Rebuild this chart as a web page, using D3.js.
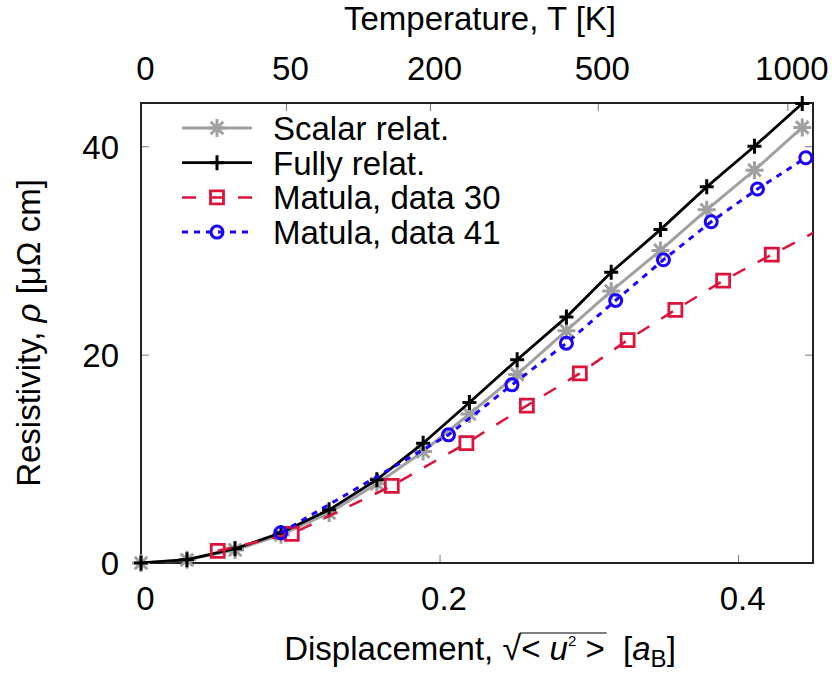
<!DOCTYPE html>
<html>
<head>
<meta charset="utf-8">
<script src="https://cdn.jsdelivr.net/npm/d3@7"></script>
<style>
  body { margin: 0; background: #fff; }
  text { font-family: "Liberation Sans", Arial, sans-serif; font-size: 33px; fill: #000; white-space: pre; }
</style>
</head>
<body>
<svg id="chart" width="832" height="675"></svg>
<script>
// displacement grid shared by the two calculated curves
const displacement = [0, 0.0308, 0.063, 0.0938, 0.126, 0.158, 0.189, 0.220, 0.252, 0.285, 0.315, 0.348, 0.379, 0.411, 0.443];
const scalarRho = [0, 0.3, 1.25, 2.7, 4.8, 7.6, 10.7, 14.3, 18.1, 22.3, 26.1, 30.0, 33.9, 37.7, 41.8];
const fullyRho = [0, 0.32, 1.37, 2.9, 5.1, 8.0, 11.5, 15.4, 19.5, 23.6, 27.9, 32.0, 36.1, 40.0, 44.1];

// experimental data (Matula)
const matula30X = [0.0514, 0.101, 0.168, 0.218, 0.2585, 0.294, 0.326, 0.358, 0.390, 0.4226, 0.4546];
const matula30Rho = [1.17, 2.8, 7.4, 11.5, 15.1, 18.2, 21.4, 24.3, 27.1, 29.6, 32.0];
const matula41X = [0.0936, 0.206, 0.2485, 0.285, 0.318, 0.350, 0.382, 0.413, 0.4454];
const matula41Rho = [2.9, 12.3, 17.1, 21.1, 25.2, 29.1, 32.75, 35.9, 38.9];

const xTicks = [0, 0.2, 0.4];
const yTicks = [0, 20, 40];
// top axis: temperature labels placed at their displacement
const tempLabels = ["0", "50", "200", "500", "1000"];
const tempPos = [0, 0.0971, 0.1936, 0.306, 0.433];

const margin = { top: 103, right: 19, bottom: 112, left: 141 };
const width = 832 - margin.left - margin.right;
const height = 675 - margin.top - margin.bottom;

const svg = d3.select("#chart");
const g = svg.append("g").attr("transform", `translate(${margin.left},${margin.top})`);

const x = d3.scaleLinear().domain([0, 0.4502]).range([0, width]);
const y = d3.scaleLinear().domain([0, 44.15]).range([height, 0]);

g.append("clipPath").attr("id", "plot-clip")
  .append("rect").attr("width", width).attr("height", height);

// axes (ticks pointing inward)
const tickColor = "#777";
const xAxis = g.append("g")
  .attr("transform", `translate(0,${height})`)
  .call(d3.axisBottom(x).tickValues(xTicks).tickSize(-8)
    .tickFormat(d => d === 0 ? "0" : d.toFixed(1)));
xAxis.selectAll("text").attr("y", 47).attr("dy", 0).attr("dx", 4);

const x2 = d3.scaleLinear().domain(x.domain()).range(x.range());
const topAxis = g.append("g")
  .call(d3.axisTop(x2).tickValues(tempPos).tickSize(-8)
    .tickFormat((d, i) => tempLabels[i]));
topAxis.selectAll("text").attr("y", -23).attr("dy", 0).attr("dx", 4);

const yAxis = g.append("g")
  .call(d3.axisLeft(y).tickValues(yTicks).tickSize(-8));
yAxis.selectAll("text").attr("x", -22).attr("dy", "0.36em");

const yAxisRight = g.append("g")
  .attr("transform", `translate(${width},0)`)
  .call(d3.axisRight(y).tickValues(yTicks).tickSize(-8).tickFormat(""));

[xAxis, topAxis, yAxis, yAxisRight].forEach(a => {
  a.select(".domain").remove();
  a.selectAll("line").attr("stroke", tickColor).attr("stroke-width", 1);
  a.selectAll("text").attr("fill", "#000");
  a.attr("font-size", null).attr("font-family", null);
});

// frame
g.append("rect")
  .attr("width", width).attr("height", height)
  .attr("fill", "none").attr("stroke", "#222").attr("stroke-width", 2);

// marker shapes
const markers = {
  star: "M-9,0H9M0,-9V9M-6.3,-6.3L6.3,6.3M-6.3,6.3L6.3,-6.3",
  plus: "M-7,0H7M0,-7.5V7.5",
  square: "M-6.5,-6.5H6.5V6.5H-6.5Z",
  circle: "M6,0A6,6 0 1,1 -6,0A6,6 0 1,1 6,0Z"
};

const series = [
  { name: "Scalar relat.", xs: displacement, ys: scalarRho, color: "#a0a0a0", width: 3, dash: null, marker: "star", mWidth: 3 },
  { name: "Fully relat.", xs: displacement, ys: fullyRho, color: "#000000", width: 2.8, dash: null, marker: "plus", mWidth: 3 },
  { name: "Matula, data 30", xs: matula30X, ys: matula30Rho, color: "#dc143c", width: 2.5, dash: "14,14", marker: "square", mWidth: 2.8 },
  { name: "Matula, data 41", xs: matula41X, ys: matula41Rho, color: "#1a00ff", width: 3, dash: "6,6", marker: "circle", mWidth: 3 }
];

const line = d3.line().x(d => x(d[0])).y(d => y(d[1]));

series.forEach(s => {
  const pts = s.xs.map((v, i) => [v, s.ys[i]]);
  g.append("path")
    .datum(pts)
    .attr("clip-path", "url(#plot-clip)")
    .attr("d", line)
    .attr("fill", "none")
    .attr("stroke", s.color)
    .attr("stroke-width", s.width)
    .attr("stroke-dasharray", s.dash);

  g.selectAll(null)
    .data(pts.filter(d => d[0] <= x.domain()[1]))
    .enter().append("path")
    .attr("transform", d => `translate(${x(d[0])},${y(d[1])})`)
    .attr("d", markers[s.marker])
    .attr("fill", "none")
    .attr("stroke", s.color)
    .attr("stroke-width", s.mWidth);
});

// legend
const legend = svg.append("g").attr("transform", "translate(182,128)");
series.forEach((s, i) => {
  const row = legend.append("g").attr("transform", `translate(0,${i * 34.7})`);
  row.append("line")
    .attr("x1", 0).attr("x2", 70)
    .attr("stroke", s.color).attr("stroke-width", s.width)
    .attr("stroke-dasharray", s.dash);
  row.append("path")
    .attr("transform", "translate(35,0)")
    .attr("d", markers[s.marker])
    .attr("fill", "none").attr("stroke", s.color).attr("stroke-width", s.mWidth);
  row.append("text")
    .attr("x", 91).attr("dy", "0.36em")
    .text(s.name);
});

// axis titles
svg.append("text")
  .attr("x", margin.left + width / 2 + 3).attr("y", 30)
  .attr("text-anchor", "middle")
  .text("Temperature, T [K]");

const yTitle = svg.append("text")
  .attr("transform", `translate(40,${margin.top + height / 2}) rotate(-90)`)
  .attr("text-anchor", "middle");
yTitle.append("tspan").text("Resistivity, ");
yTitle.append("tspan").style("font-style", "italic").text("ρ");
yTitle.append("tspan").text(" [μΩ cm]");

// bottom title built piece by piece so the root bar can be measured
const xTitle = svg.append("g");
let cx = 0;
function piece(str, opts = {}) {
  const t = xTitle.append("text")
    .attr("x", cx).attr("y", opts.dy || 0)
    .text(str);
  if (opts.size) t.style("font-size", opts.size);
  if (opts.italic) t.style("font-style", "italic");
  const w = t.node().getComputedTextLength();
  const start = cx;
  cx += w;
  return { start, end: cx };
}
piece("Displacement, ");
const root = piece("√", { size: "34px" });
piece("< ");
piece("u", { italic: true });
piece("2", { size: "15px", dy: -14 });
const inner1 = piece(" >");
piece("  [");
piece("a", { italic: true });
piece("B", { size: "24px", dy: 7 });
piece("]");
xTitle.append("line")
  .attr("x1", root.end - 1).attr("x2", inner1.end + 2)
  .attr("y1", -27).attr("y2", -27)
  .attr("stroke", "#000").attr("stroke-width", 1.2);
xTitle.attr("transform", `translate(${margin.left + width / 2 + 3 - cx / 2},660)`);
</script>
</body>
</html>
